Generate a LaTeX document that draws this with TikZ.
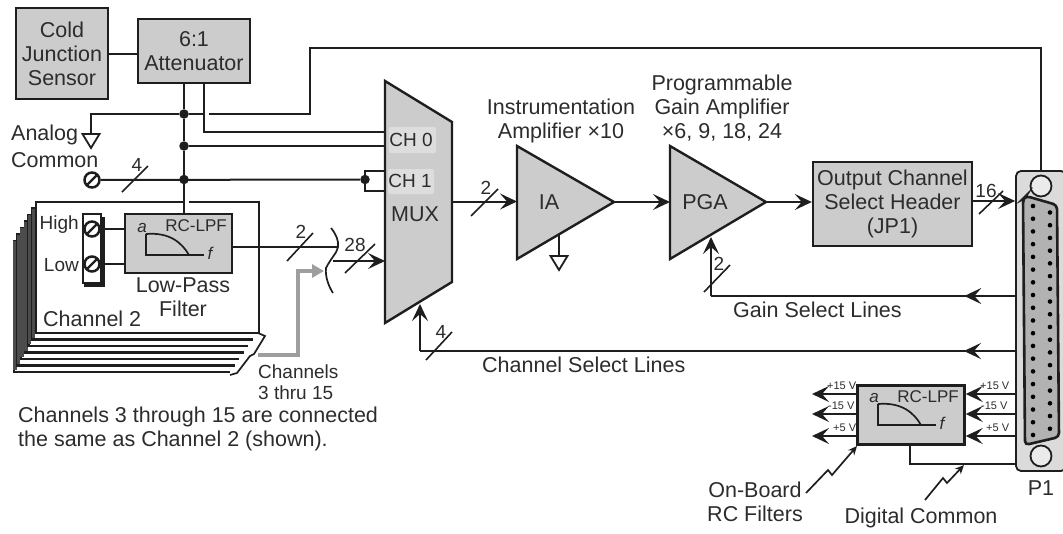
\documentclass[tikz,border=0pt]{standalone}
\usepackage{fontspec}
\setmainfont{Liberation Sans}
\usetikzlibrary{arrows.meta,calc,decorations.markings}
\definecolor{boxgray}{HTML}{CCCCCC}
\definecolor{linegray}{HTML}{1E1E1E}
\definecolor{txtgray}{HTML}{2C2C2C}
\tikzset{
  every node/.style={text=txtgray,font=\fontsize{21.5}{24}\selectfont,inner sep=0pt,align=center},
  block/.style={draw=linegray,line width=2.4pt,fill=boxgray},
  wire/.style={draw=linegray,line width=2pt},
  thin wire/.style={draw=linegray,line width=1.7pt},
  tip/.style={-{Stealth[length=17pt,width=16pt,inset=7pt]}},
  midtip/.style={postaction=decorate,decoration={markings,mark=at position #1 with {\arrow{Stealth[length=17pt,width=16pt,inset=7pt]}}}},
  slash/.style={draw=linegray,line width=1.6pt},
  num/.style={font=\fontsize{19}{20}\selectfont},
  small/.style={font=\fontsize{19}{21}\selectfont},
  volt/.style={font=\fontsize{11}{12}\selectfont},
  dot/.style={circle,fill=linegray,minimum size=9.5pt},
  term/.style={circle,draw=linegray,line width=2.5pt,fill=white,minimum size=15pt},
}
\newcommand{\groundsym}[1]{\draw[thin wire,fill=white,line width=1.8pt] ($(#1)+(-8.5,0)$) -- ($(#1)+(8.5,0)$) -- ($(#1)+(0,14)$) -- cycle;}
\newcommand{\termslash}[1]{\draw[linegray,line width=2.2pt] ($(#1)+(-5,5)$) -- ($(#1)+(5,-5)$);}
\newcommand{\lpfcurve}[2]{% lower left corner of the curve
\draw[thin wire] (#1,#2-21) -- (#1,#2) -- (#1+58,#2);
\draw[thin wire] (#1,#2-21) .. controls (#1+24,#2-23) and (#1+36,#2-12) .. (#1+43,#2);
\node[font=\itshape\fontsize{17}{17}\selectfont] (#1a) at (#1-4,#2-27) {a};
\node[font=\itshape\fontsize{17}{17}\selectfont] (#1f) at (#1+64,#2-2) {f};
}
\begin{document}
\begin{tikzpicture}[x=1pt,y=-1pt]
\useasboundingbox (0,0) rectangle (1063,533);
% channel sheets
\foreach \i in {6,5,4,3,2,1}{
  \fill[white] (36-\i*3.7,202+\i*6.5) rectangle (257-\i*4.5,333+\i*6.5);
  \draw[wire,line width=2.4pt] (60,202+\i*6.5) -- (36-\i*3.7,202+\i*6.5) -- (36-\i*3.7,333+\i*6.5) -- (257-\i*4.5,333+\i*6.5);
  \draw[wire,draw=black!70,line width=3.6pt] (36-\i*3.7+1,202+\i*6.5) -- (36-\i*3.7+1,333+\i*6.5-2);
}
\draw[thin wire] (258,333) -- (265,336) -- (254,354) -- (250,356) -- (237,373) -- (230,375);
\draw[wire,fill=white,line width=2.2pt] (184,202) -- (36,202) -- (36,333) -- (259,333) -- (259,202) -- (189,202);
% top blocks
\node[block,minimum width=92pt,minimum height=91pt] (cold) at (62,53.5) {Cold\\Junction\\Sensor};
\node[block,minimum width=112pt,minimum height=64pt] (atten) at (194,51) {6:1\\Attenuator};
\draw[wire] (cold.east |- 0,54) -- (atten.west |- 0,54);
% mux
\draw[block] (385,81) coordinate (muxA) -- (452,122) -- (452,282) coordinate (muxC) -- (385,323) coordinate (muxD) -- cycle;
\coordinate (muxOut) at (452,201.5);
\fill[white,opacity=.35,rounded corners=2pt] (389,127) rectangle (436,153);
\fill[white,opacity=.35,rounded corners=2pt] (388,169) rectangle (434,194);
\node[num] (ch0) at (411,139.5) {CH 0};
\node[num] (ch1) at (410,181) {CH 1};
\node (mux) at (415,214) {MUX};
% junctions
\coordinate (gnd) at (91,134);
\node[term] (tcom) at (92,180) {};
\termslash{tcom}
\node[dot] (j1) at (184,114) {};
\node[dot] (j2) at (184,146) {};
\node[dot] (j3) at (184,179.5) {};
\node[dot] (j4) at (365,179.5) {};
% attenuator wires
\draw[wire] (184,83) -- (j1) -- (j2) -- (j3) -- (184,214);
\draw[wire] (204,83) -- (204,132) -- (385,132);
\draw[wire] (gnd) -- (91,114) -- (j1) -- (203,114);
\draw[wire] (j2) -- (385,146);
\draw[wire] (tcom) -- (j4);
\draw[wire] (385,171) -- (365,171) -- (365,191) -- (385,191);
\groundsym{gnd}
\node[anchor=west] (analog) at (11,135) {Analog};
\node[anchor=west] (common) at (11,160) {Common};
\draw[slash] (122,192) -- (148,166);
\node[num] (n4a) at (137,165) {4};
% channel 2
\draw[block,fill=white] (83,214) rectangle (101,283);
\draw[linegray,line width=4pt] (103,217) -- (103,285) -- (84,285);
\node[term] (thigh) at (92,229) {};
\node[term] (tlow) at (92,264) {};
\termslash{thigh}
\termslash{tlow}
\node[block,minimum width=107pt,minimum height=59pt] (lpf) at (178.5,243.5) {};
\draw[wire] (thigh) -- (thigh -| lpf.west);
\draw[wire] (tlow) -- (tlow -| lpf.west);
\lpfcurve{146}{255}
\node[anchor=east,font=\fontsize{17}{17}\selectfont] (rclpf) at (227,226) {RC-LPF};
\node[anchor=east,small] (high) at (79,225) {High};
\node[anchor=east,small] (low) at (79,265) {Low};
\node (lowpass) at (183,297.5) {Low-Pass\\Filter};
\node[anchor=west] (chan2) at (43,319) {Channel 2};
% crossing
\coordinate (cr) at (338,247);
\draw[wire] (lpf.east |- cr) -- (cr);
\draw[thin wire] (331,228) .. controls (336,234) and (339,241) .. (cr) .. controls (337,253) and (331,258) .. (326,268) .. controls (325,277) and (329,287) .. (333,293);
\draw[wire,tip] (333,261) -- (muxA |- 0,261);
\draw[color=black!38,line width=4.5pt,-{Stealth[length=12pt,width=13pt,inset=0pt]}] (258,355) -- (298,355) -- (298,271) -- (324,271);
\draw[slash] (287,261) -- (313,233);
\node[num] (n2a) at (301,232) {2};
\draw[slash] (345,273) -- (375,244);
\node[num] (n28) at (355,245) {28};
\node[small,anchor=north west,align=left] (chans) at (258,365) {Channels\\3 thru 15};
\node[anchor=north west,align=left] (note) at (18,407) {Channels 3 through 15 are connected\\the same as Channel 2 (shown).};
% amplifiers
\draw[block] (517,146) coordinate (iaA) -- (614,202) coordinate (iaOut) -- (517,259) -- cycle;
\draw[block] (670,146) coordinate (pgaA) -- (766,202) coordinate (pgaOut) -- (670,259) -- cycle;
\node (ia) at (549,202) {IA};
\node (pga) at (705,202) {PGA};
\node (iatxt) at (561,120.5) {Instrumentation\\Amplifier ×10};
\node (pgatxt) at (722,108.5) {Programmable\\Gain Amplifier\\×6, 9, 18, 24};
\draw[wire,tip] (muxOut) -- (iaA |- muxOut);
\draw[slash] (471,216) -- (498,189);
\node[num] (n2b) at (486,188) {2};
\draw[wire,tip] (iaOut) -- (pgaA |- iaOut);
\coordinate (iagnd) at (559,256);
\draw[wire] (559,234) -- (iagnd);
\groundsym{iagnd}
% output header
\node[block,minimum width=159pt,minimum height=84pt] (hdr) at (892.5,204) {Output Channel\\Select Header\\(JP1)};
\draw[wire,tip] (pgaOut) -- (hdr.west |- pgaOut);
% connector
\node[block,fill=boxgray!70!white,rounded corners=5pt,line width=1.8pt,minimum width=50pt,minimum height=300pt] (conn) at (1041,321) {};
\draw[wire] (209,114) -- (310,114) -- (310,48) -- (conn.north |- 0,48) -- (conn.north);
\draw[wire,tip] (hdr.east |- 0,201) -- (conn.west |- 0,201);
\draw[slash] (979,214) -- (1003,191);
\node[num] (n16) at (986,191) {16};
\node[circle,draw=linegray,line width=1.8pt,minimum size=21pt,fill=boxgray!40!white] (holeA) at (1041,186) {};
\node[circle,draw=linegray,line width=1.8pt,minimum size=21pt,fill=boxgray!40!white] (holeB) at (1041,456) {};
\draw[linegray,line width=2.6pt,fill=black!30,rounded corners=4pt] (1023,199) -- (1026,196) -- (1057,205) -- (1059,437) -- (1025,445) -- cycle;
\foreach \n in {0,...,18}{\fill[black] (1033,206+\n*12.72) circle (2.3pt);}
\foreach \n in {0,...,17}{\fill[black] (1050,212.5+\n*12.72) circle (2.3pt);}
\node (p1) at (1041,488) {P1};
% select lines
\draw[wire,midtip=0.167] (conn.west |- 0,296) -- (711,296);
\draw[wire,tip] (711,296) -- (711,237);
\draw[slash] (704,292) -- (730,265);
\node[num] (n2c) at (719,264) {2};
\node[anchor=west] (gainsel) at (733,310) {Gain Select Lines};
\draw[wire,midtip=0.086] (conn.west |- 0,351) -- (420,351);
\draw[wire,tip] (420,351) -- (420,304);
\draw[slash] (426,360) -- (452,332);
\node[num] (n4b) at (441,332) {4};
\node[anchor=west] (chansel) at (482,365) {Channel Select Lines};
% filters
\node[block,minimum width=107pt,minimum height=59pt] (rcf) at (911,415) {};
\lpfcurve{878}{425}
\node[anchor=east,font=\fontsize{17}{17}\selectfont] (rcb) at (959,397) {RC-LPF};
\foreach \y/\v/\w in {394/+15 V/827, 414/-15 V/828, 436/+5 V/833}{
  \draw[wire,tip] (rcf.west |- 0,\y) -- (812,\y);
  \draw[wire,tip] (conn.west |- 0,\y) -- (rcf.east |- 0,\y);
  \node[volt,anchor=west] at (\w,\y-8) {\v};
  \node[volt,anchor=west] at (\w+153,\y-8) {\v};
}
\draw[wire] (910,445) -- (910,464) -- (conn.west |- 0,464);
\draw[thin wire,-{Stealth[length=9pt,width=8pt]}] (806,493) -- (828,470) -- (832,475) -- (857,446);
\draw[thin wire,-{Stealth[length=9pt,width=8pt]}] (925,500) -- (943,478) -- (947,483) -- (964,465);
\node (onboard) at (755,502) {On-Board\\RC Filters};
\node (digcom) at (921,518) {Digital Common};
\end{tikzpicture}
\end{document}
